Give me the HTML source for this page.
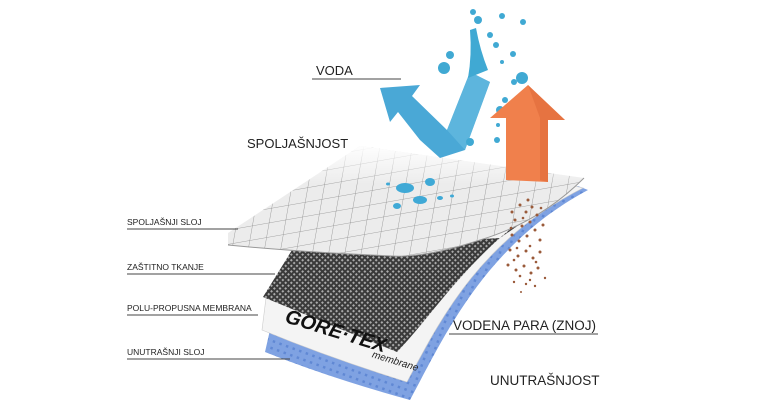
<!DOCTYPE html>
<html><head><meta charset="utf-8"><style>
html,body{margin:0;padding:0;background:#fff;}
svg{display:block;font-family:"Liberation Sans",sans-serif;}
</style></head><body>
<svg width="760" height="410" viewBox="0 0 760 410" xmlns="http://www.w3.org/2000/svg">
<defs>
<pattern id="grid" width="17" height="14" patternUnits="userSpaceOnUse" patternTransform="rotate(-10) skewX(-20)">
<rect width="17" height="14" fill="#ececec"/>
<path d="M0 0H17M0 0V14" stroke="#888" stroke-width="0.8"/>
</pattern>
<pattern id="mesh" width="4" height="4" patternUnits="userSpaceOnUse" patternTransform="rotate(45)">
<rect width="4" height="4" fill="#3a3a3a"/>
<rect x="1" y="1" width="2" height="2" fill="#aaa"/>
</pattern>
<pattern id="blue" width="7" height="7" patternUnits="userSpaceOnUse" patternTransform="rotate(20)">
<rect width="7" height="7" fill="#7fa2e2"/>
<rect x="2" y="2" width="2.5" height="2.5" fill="#6088d4"/>
</pattern>
<linearGradient id="fade" x1="0" y1="0" x2="0" y2="1">
<stop offset="0" stop-color="#fff" stop-opacity="0.95"/>
<stop offset="0.35" stop-color="#fff" stop-opacity="0"/>
</linearGradient>
</defs>

<path d="M270,330 L265,352 Q330,378 410,400 C445,335 485,245 588,190 L578,186 Z" fill="url(#blue)"/>
<path d="M266,298 L262,330 Q330,358 407,382 C440,320 480,240 583,188 L570,185 Z" fill="#f4f4f4" stroke="#ccc" stroke-width="0.6"/>
<path d="M292,250 L263,297 Q330,325 397,352 C438,310 480,235 578,184 L500,238 Z" fill="url(#mesh)"/>
<path d="M228,233 L360,146 L584,178 Q540,222 480,240 Q425,258 392,256 Q300,252 228,245 Z" fill="url(#grid)"/>
<path d="M228,233 L360,146 L584,178 Q540,222 480,240 Q425,258 392,256 Q300,252 228,245 Z" fill="url(#fade)"/>
<path d="M228,245 Q300,252 392,256 Q425,258 480,240 Q540,222 584,178" fill="none" stroke="#999" stroke-width="1"/>

<g fill="#3fa9d6">
<ellipse cx="405" cy="188" rx="9" ry="5"/><ellipse cx="430" cy="182" rx="5" ry="4"/>
<ellipse cx="420" cy="200" rx="7" ry="4"/><ellipse cx="397" cy="206" rx="4" ry="3"/>
<ellipse cx="440" cy="198" rx="3" ry="2"/><ellipse cx="388" cy="184" rx="2" ry="1.5"/>
<ellipse cx="452" cy="196" rx="2" ry="1.5"/>
</g>

<path d="M380,88 L420,85 L412,96 L447,130 L470,72 L490,82 L465,150 L440,158 L420,140 L398,112 L390,122 Z" fill="#4aa8d6"/>
<path d="M447,130 L470,72 L490,82 L465,150 Z" fill="#62b8df" opacity="0.8"/>
<g fill="#40a9d3">
<path d="M468,78 Q472,55 470,30 L476,28 Q480,50 488,70 Z"/>
<circle cx="478" cy="20" r="4"/><circle cx="473" cy="12" r="3"/><circle cx="490" cy="35" r="3"/>
<circle cx="444" cy="68" r="6"/><circle cx="450" cy="55" r="4"/><circle cx="496" cy="45" r="3"/>
<circle cx="502" cy="16" r="3"/><circle cx="523" cy="22" r="3"/><circle cx="522" cy="78" r="6"/>
<circle cx="505" cy="100" r="3"/><circle cx="500" cy="110" r="4"/><circle cx="497" cy="140" r="3"/>
<circle cx="498" cy="125" r="2"/><circle cx="514" cy="82" r="3"/><circle cx="470" cy="142" r="4"/>
<circle cx="502" cy="62" r="2"/><circle cx="513" cy="54" r="3"/>
</g>

<path d="M506,180 L506,118 L490,118 L528,85 L565,120 L548,120 L548,182 Z" fill="#f0804c"/>
<path d="M528,85 L565,120 L548,120 L548,182 L540,180 L540,118 Z" fill="#e06a3a" opacity="0.6"/>

<g fill="#9a5a3a">
<circle cx="520" cy="205" r="1.5"/><circle cx="526" cy="212" r="1.5"/><circle cx="532" cy="207" r="1.5"/>
<circle cx="515" cy="220" r="1.5"/><circle cx="522" cy="226" r="1.5"/><circle cx="530" cy="222" r="1.5"/>
<circle cx="537" cy="215" r="1.5"/><circle cx="512" cy="235" r="1.5"/><circle cx="519" cy="241" r="1.5"/>
<circle cx="527" cy="236" r="1.5"/><circle cx="535" cy="230" r="1.5"/><circle cx="540" cy="240" r="1.5"/>
<circle cx="510" cy="250" r="1.5"/><circle cx="518" cy="256" r="1.5"/><circle cx="526" cy="251" r="1.5"/>
<circle cx="533" cy="258" r="1.5"/><circle cx="540" cy="252" r="1.5"/><circle cx="508" cy="265" r="1.5"/>
<circle cx="516" cy="270" r="1.5"/><circle cx="524" cy="266" r="1.5"/><circle cx="531" cy="273" r="1.5"/>
<circle cx="538" cy="268" r="1.5"/><circle cx="514" cy="282" r="1.2"/><circle cx="526" cy="284" r="1.2"/>
<circle cx="535" cy="286" r="1.2"/><circle cx="521" cy="292" r="1"/><circle cx="545" cy="278" r="1.2"/>
<circle cx="528" cy="200" r="1.5"/><circle cx="512" cy="212" r="1.5"/><circle cx="543" cy="225" r="1.5"/>
<circle cx="523" cy="218" r="1.3"/><circle cx="530" cy="246" r="1.3"/><circle cx="514" cy="260" r="1.3"/>
<circle cx="536" cy="262" r="1.3"/><circle cx="520" cy="276" r="1.3"/><circle cx="511" cy="228" r="1.3"/>
<circle cx="541" cy="208" r="1.3"/><circle cx="530" cy="280" r="1.2"/><circle cx="517" cy="248" r="1.3"/>
</g>

<g transform="translate(284,322) rotate(17)">
<text x="0" y="0" font-size="20" font-weight="bold" font-style="italic" fill="#111">GORE·TEX</text>
<text x="94" y="8" font-size="10" font-style="italic" fill="#222">membrane</text>
</g>

<g fill="#222">
<text x="316" y="75" font-size="13">VODA</text>
<text x="247" y="148" font-size="13">SPOLJAŠNJOST</text>
<text x="127" y="225" font-size="8.5">SPOLJAŠNJI SLOJ</text>
<text x="127" y="270" font-size="8.5">ZAŠTITNO TKANJE</text>
<text x="127" y="311" font-size="8.5">POLU-PROPUSNA MEMBRANA</text>
<text x="127" y="355" font-size="8.5">UNUTRAŠNJI SLOJ</text>
<text x="453" y="330" font-size="13.5">VODENA PARA (ZNOJ)</text>
<text x="490" y="385" font-size="13.5">UNUTRAŠNJOST</text>
</g>
<g stroke="#444" stroke-width="1">
<line x1="312" y1="79" x2="401" y2="79"/>
<line x1="127" y1="229" x2="238" y2="229"/>
<line x1="127" y1="274" x2="275" y2="274"/>
<line x1="127" y1="315" x2="258" y2="315"/>
<line x1="127" y1="359" x2="290" y2="359"/>
<line x1="449" y1="334" x2="598" y2="334"/>
</g>
</svg>
</body></html>
